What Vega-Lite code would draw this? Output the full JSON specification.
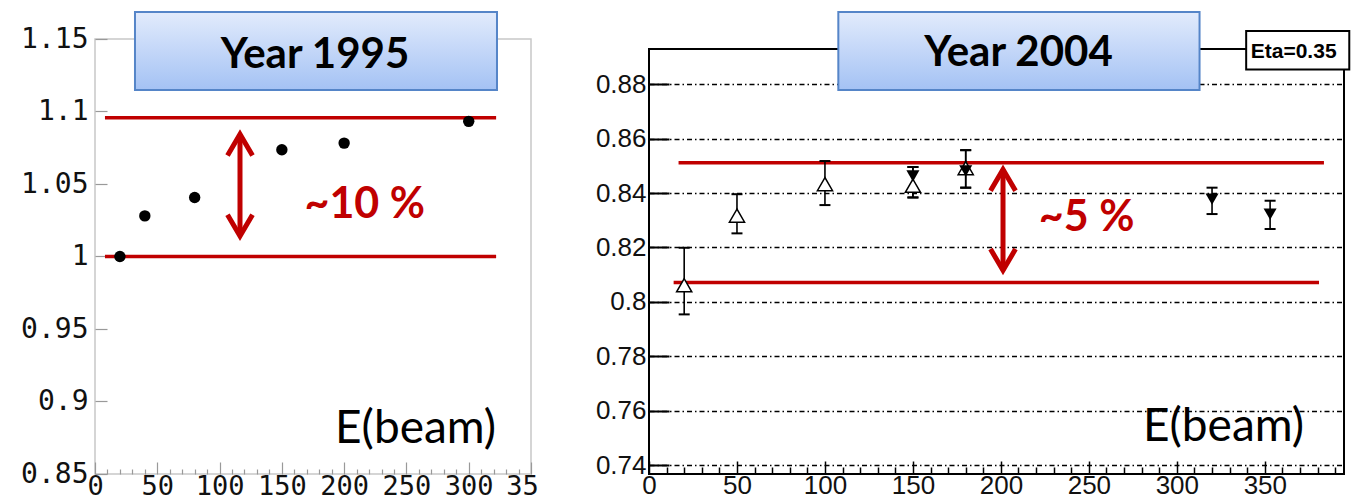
{
  "$schema": "https://vega.github.io/schema/vega-lite/v6.json",
  "background": "white",
  "padding": {"left": 19, "top": 10, "right": 0, "bottom": 0},
  "config": {"view": {"stroke": null}},
  "spacing": 54,
  "bounds": "full",
  "datasets": {
    "p1995": [
      {"E": 20, "R": 1.0}, {"E": 40, "R": 1.028}, {"E": 80, "R": 1.0407},
      {"E": 150, "R": 1.0736}, {"E": 200, "R": 1.0782}, {"E": 300, "R": 1.0932}
    ],
    "band1995": [{"from": 8, "to": 322, "R": 1.0957}, {"from": 8, "to": 322, "R": 1.0}],
    "arrow1995": [{"E": 116.4, "lo": 1.0141, "hi": 1.0843}],
    "note1995": [{"E": 216.5, "R": 1.0268, "text": "~10 %"}],
    "beam1995": [{"E": 322, "R": 0.8716, "text": "E(beam)"}],
    "box1995": [{"x0": 32.1, "x1": 322.7, "y0": 1.1148, "y1": 1.1686, "xc": 176.6, "yb": 1.1302, "text": "Year 1995"}],
    "p2004": [
      {"E": 20, "R": 0.8061, "lo": 0.7954, "hi": 0.8199, "kind": "open"},
      {"E": 50, "R": 0.8317, "lo": 0.8252, "hi": 0.8396, "kind": "open"},
      {"E": 100, "R": 0.8433, "lo": 0.8356, "hi": 0.8518, "kind": "open"},
      {"E": 150, "R": 0.8427, "lo": 0.8384, "hi": 0.8496, "kind": "open"},
      {"E": 180, "R": 0.8492, "lo": 0.842, "hi": 0.8558, "kind": "open"},
      {"E": 150, "R": 0.8463, "lo": 0.8384, "hi": 0.8496, "kind": "filled"},
      {"E": 180, "R": 0.8482, "lo": 0.842, "hi": 0.8558, "kind": "filled"},
      {"E": 320, "R": 0.8378, "lo": 0.8323, "hi": 0.842, "kind": "filled"},
      {"E": 353, "R": 0.8323, "lo": 0.8268, "hi": 0.8372, "kind": "filled"}
    ],
    "band2004": [{"from": 16.8, "to": 383.6, "R": 0.8512}, {"from": 14.0, "to": 380.8, "R": 0.8071}],
    "arrow2004": [{"E": 201.2, "lo": 0.8116, "hi": 0.8487}],
    "note2004": [{"E": 248.7, "R": 0.8261, "text": "~5 %"}],
    "beam2004": [{"E": 372.3, "R": 0.7489, "text": "E(beam)"}],
    "box2004": [{"x0": 107.6, "x1": 312.9, "y0": 0.8779, "y1": 0.9066, "xc": 210, "yb": 0.8867, "text": "Year 2004"}],
    "eta2004": [{"x0": 339.4, "x1": 398, "y0": 0.8855, "y1": 0.8996, "xt": 342, "yb": 0.8898, "text": "Eta=0.35"}]
  },
  "hconcat": [
    {
      "width": 436,
      "height": 435,
      "view": {"stroke": "#c8c8c8", "strokeWidth": 1.5},
      "resolve": {"axis": {"x": "independent"}},
      "layer": [
        {
          "data": {"name": "band1995"},
          "mark": {"type": "rule", "color": "#c00000", "strokeWidth": 3.5},
          "encoding": {
            "x": {
              "field": "from", "type": "quantitative",
              "scale": {"domain": [0, 350], "nice": false, "zero": false},
              "axis": {
                "title": null, "orient": "bottom",
                "values": [0, 50, 100, 150, 200, 250, 300, 350],
                "labelExpr": "datum.value === 350 ? '35' : toString(datum.value)",
                "labelFont": "DejaVu Sans Mono", "labelFontSize": 27, "labelColor": "#111",
                "labelFlush": false, "labelOverlap": false, "labelBound": false,
                "labelPadding": 11,
                "labelOffset": {"condition": {"test": "datum.value === 350", "value": -9}, "value": 0},
                "tickColor": "#999", "tickWidth": 1.2, "tickSize": -12,
                "domain": false, "grid": false
              }
            },
            "x2": {"field": "to"},
            "y": {
              "field": "R", "type": "quantitative",
              "scale": {"domain": [0.85, 1.15], "nice": false, "zero": false},
              "axis": {
                "title": null,
                "values": [0.85,0.875,0.9,0.925,0.95,0.975,1,1.025,1.05,1.075,1.1,1.125,1.15],
                "labelExpr": "abs(datum.value*20 - round(datum.value*20)) < 1e-6 ? toString(datum.value) : ''",
                "labelFont": "DejaVu Sans Mono", "labelFontSize": 28, "labelColor": "#111",
                "labelOverlap": false, "labelBound": false, "labelFlush": false,
                "labelPadding": 19,
                "tickColor": "#999", "tickWidth": 1.2,
                "tickSize": {"condition": {"test": "abs(datum.value*20 - round(datum.value*20)) < 1e-6", "value": -12}, "value": -5},
                "domain": false, "grid": false
              }
            }
          }
        },
        {
          "data": {"name": "p1995"},
          "mark": {"type": "circle", "color": "black", "size": 130, "opacity": 1},
          "encoding": {
            "x": {
              "field": "E", "type": "quantitative",
              "axis": {
                "title": null, "orient": "bottom",
                "values": [10,20,30,40,60,70,80,90,110,120,130,140,160,170,180,190,210,220,230,240,260,270,280,290,310,320,330,340],
                "labels": false, "tickColor": "#999", "tickWidth": 1.2, "tickSize": -5,
                "domain": false, "grid": false
              }
            },
            "y": {"field": "R", "type": "quantitative"}
          }
        },
        {
          "data": {"name": "arrow1995"},
          "mark": {"type": "rule", "color": "#c00000", "strokeWidth": 5},
          "encoding": {"x": {"field": "E", "type": "quantitative", "axis": null}, "y": {"field": "lo", "type": "quantitative"}, "y2": {"field": "hi"}}
        },
        {
          "data": {"name": "arrow1995"},
          "mark": {"type": "point", "shape": "M-1,1.7L0,0L1,1.7", "filled": false, "stroke": "#c00000", "strokeWidth": 5, "size": 625, "opacity": 1},
          "encoding": {"x": {"field": "E", "type": "quantitative", "axis": null}, "y": {"field": "hi", "type": "quantitative"}}
        },
        {
          "data": {"name": "arrow1995"},
          "mark": {"type": "point", "shape": "M-1,-1.7L0,0L1,-1.7", "filled": false, "stroke": "#c00000", "strokeWidth": 5, "size": 625, "opacity": 1},
          "encoding": {"x": {"field": "E", "type": "quantitative", "axis": null}, "y": {"field": "lo", "type": "quantitative"}}
        },
        {
          "data": {"name": "note1995"},
          "mark": {"type": "text", "color": "#c00000", "font": "Lato", "fontWeight": "bold", "fontSize": 43, "align": "center", "baseline": "alphabetic"},
          "encoding": {"x": {"field": "E", "type": "quantitative", "axis": null}, "y": {"field": "R", "type": "quantitative"}, "text": {"field": "text"}}
        },
        {
          "data": {"name": "beam1995"},
          "mark": {"type": "text", "color": "black", "font": "Lato", "fontSize": 46, "align": "right", "baseline": "alphabetic"},
          "encoding": {"x": {"field": "E", "type": "quantitative", "axis": null}, "y": {"field": "R", "type": "quantitative"}, "text": {"field": "text"}}
        },
        {
          "data": {"name": "box1995"},
          "mark": {"type": "rect", "stroke": "#5585c8", "strokeWidth": 2,
            "fill": {"gradient": "linear", "x1": 0, "y1": 0, "x2": 0, "y2": 1, "stops": [{"offset": 0, "color": "#e2ebfc"}, {"offset": 1, "color": "#a4c2f4"}]}},
          "encoding": {"x": {"field": "x0", "type": "quantitative", "axis": null}, "x2": {"field": "x1"}, "y": {"field": "y0", "type": "quantitative"}, "y2": {"field": "y1"}}
        },
        {
          "data": {"name": "box1995"},
          "mark": {"type": "text", "color": "black", "font": "Lato", "fontWeight": "bold", "fontSize": 42, "align": "center", "baseline": "alphabetic"},
          "encoding": {"x": {"field": "xc", "type": "quantitative", "axis": null}, "y": {"field": "yb", "type": "quantitative"}, "text": {"field": "text"}}
        }
      ]
    },
    {
      "spacing": 0,
      "bounds": "flush",
      "vconcat": [
        {
          "width": 695,
          "height": 10,
          "data": {"values": [{"blank": ""}]},
          "mark": {"type": "text"},
          "encoding": {"text": {"field": "blank"}}
        },
        {
          "width": 695,
          "height": 425,
          "view": {"stroke": "black", "strokeWidth": 2},
          "resolve": {"axis": {"x": "independent"}},
          "layer": [
            {
              "data": {"name": "band2004"},
              "mark": {"type": "rule", "color": "#c00000", "strokeWidth": 3.5},
              "encoding": {
                "x": {
                  "field": "from", "type": "quantitative",
                  "scale": {"domain": [0, 395], "nice": false, "zero": false},
                  "axis": {
                    "title": null, "orient": "bottom",
                    "values": [0, 50, 100, 150, 200, 250, 300, 350],
                    "labelExpr": "toString(datum.value)",
                    "labelFont": "Liberation Sans", "labelFontSize": 26, "labelColor": "#111",
                    "labelFlush": false, "labelOverlap": false, "labelBound": false,
                    "labelPadding": 11,
                    "tickColor": "black", "tickWidth": 1.5, "tickSize": -13,
                    "domain": false, "grid": false
                  }
                },
                "x2": {"field": "to"},
                "y": {
                  "field": "R", "type": "quantitative",
                  "scale": {"domain": [0.7367, 0.893], "nice": false, "zero": false},
                  "axis": {
                    "title": null,
                    "values": [0.74,0.745,0.75,0.755,0.76,0.765,0.77,0.775,0.78,0.785,0.79,0.795,0.8,0.805,0.81,0.815,0.82,0.825,0.83,0.835,0.84,0.845,0.85,0.855,0.86,0.865,0.87,0.875,0.88,0.885,0.89],
                    "labelExpr": "abs(datum.value*50 - round(datum.value*50)) < 1e-6 ? toString(datum.value) : ''",
                    "labelFont": "Liberation Sans", "labelFontSize": 26, "labelColor": "#111",
                    "labelOverlap": false, "labelBound": false, "labelFlush": false,
                    "labelPadding": 23,
                    "tickColor": "black", "tickWidth": 2,
                    "tickSize": {"condition": {"test": "abs(datum.value*50 - round(datum.value*50)) < 1e-6", "value": -20}, "value": -10},
                    "grid": true, "gridColor": "black", "gridWidth": 1.5, "gridDash": [5, 3, 1.5, 3],
                    "gridOpacity": {"condition": {"test": "abs(datum.value*50 - round(datum.value*50)) < 1e-6", "value": 1}, "value": 0},
                    "domain": false
                  }
                }
              }
            },
            {
              "data": {"name": "p2004"},
              "mark": {"type": "rule", "color": "black", "strokeWidth": 1.6},
              "encoding": {
                "x": {
                  "field": "E", "type": "quantitative",
                  "axis": {
                    "title": null, "orient": "bottom",
                    "values": [10,20,30,40,60,70,80,90,110,120,130,140,160,170,180,190,210,220,230,240,260,270,280,290,310,320,330,340,360,370,380,390],
                    "labels": false, "tickColor": "black", "tickWidth": 1.5, "tickSize": -7,
                    "domain": false, "grid": false
                  }
                },
                "y": {"field": "lo", "type": "quantitative"}, "y2": {"field": "hi"}
              }
            },
            {
              "data": {"name": "p2004"},
              "mark": {"type": "tick", "orient": "horizontal", "color": "black", "size": 11, "thickness": 2, "opacity": 1},
              "encoding": {"x": {"field": "E", "type": "quantitative", "axis": null}, "y": {"field": "lo", "type": "quantitative"}}
            },
            {
              "data": {"name": "p2004"},
              "mark": {"type": "tick", "orient": "horizontal", "color": "black", "size": 11, "thickness": 2, "opacity": 1},
              "encoding": {"x": {"field": "E", "type": "quantitative", "axis": null}, "y": {"field": "hi", "type": "quantitative"}}
            },
            {
              "data": {"name": "p2004"},
              "transform": [{"filter": "datum.kind === 'open'"}],
              "mark": {"type": "point", "shape": "triangle-up", "filled": true, "fill": "white", "stroke": "black", "strokeWidth": 1.5, "size": 230, "opacity": 1},
              "encoding": {"x": {"field": "E", "type": "quantitative", "axis": null}, "y": {"field": "R", "type": "quantitative"}}
            },
            {
              "data": {"name": "p2004"},
              "transform": [{"filter": "datum.kind === 'filled'"}],
              "mark": {"type": "point", "shape": "triangle-down", "filled": true, "color": "black", "size": 170, "opacity": 1},
              "encoding": {"x": {"field": "E", "type": "quantitative", "axis": null}, "y": {"field": "R", "type": "quantitative"}}
            },
            {
              "data": {"name": "arrow2004"},
              "mark": {"type": "rule", "color": "#c00000", "strokeWidth": 5},
              "encoding": {"x": {"field": "E", "type": "quantitative", "axis": null}, "y": {"field": "lo", "type": "quantitative"}, "y2": {"field": "hi"}}
            },
            {
              "data": {"name": "arrow2004"},
              "mark": {"type": "point", "shape": "M-1,1.7L0,0L1,1.7", "filled": false, "stroke": "#c00000", "strokeWidth": 5, "size": 625, "opacity": 1},
              "encoding": {"x": {"field": "E", "type": "quantitative", "axis": null}, "y": {"field": "hi", "type": "quantitative"}}
            },
            {
              "data": {"name": "arrow2004"},
              "mark": {"type": "point", "shape": "M-1,-1.7L0,0L1,-1.7", "filled": false, "stroke": "#c00000", "strokeWidth": 5, "size": 625, "opacity": 1},
              "encoding": {"x": {"field": "E", "type": "quantitative", "axis": null}, "y": {"field": "lo", "type": "quantitative"}}
            },
            {
              "data": {"name": "note2004"},
              "mark": {"type": "text", "color": "#c00000", "font": "Lato", "fontWeight": "bold", "fontSize": 43, "align": "center", "baseline": "alphabetic"},
              "encoding": {"x": {"field": "E", "type": "quantitative", "axis": null}, "y": {"field": "R", "type": "quantitative"}, "text": {"field": "text"}}
            },
            {
              "data": {"name": "beam2004"},
              "mark": {"type": "text", "color": "black", "font": "Lato", "fontSize": 46, "align": "right", "baseline": "alphabetic"},
              "encoding": {"x": {"field": "E", "type": "quantitative", "axis": null}, "y": {"field": "R", "type": "quantitative"}, "text": {"field": "text"}}
            },
            {
              "data": {"name": "box2004"},
              "mark": {"type": "rect", "stroke": "#5585c8", "strokeWidth": 2,
                "fill": {"gradient": "linear", "x1": 0, "y1": 0, "x2": 0, "y2": 1, "stops": [{"offset": 0, "color": "#e2ebfc"}, {"offset": 1, "color": "#a4c2f4"}]}},
              "encoding": {"x": {"field": "x0", "type": "quantitative", "axis": null}, "x2": {"field": "x1"}, "y": {"field": "y0", "type": "quantitative"}, "y2": {"field": "y1"}}
            },
            {
              "data": {"name": "box2004"},
              "mark": {"type": "text", "color": "black", "font": "Lato", "fontWeight": "bold", "fontSize": 42, "align": "center", "baseline": "alphabetic"},
              "encoding": {"x": {"field": "xc", "type": "quantitative", "axis": null}, "y": {"field": "yb", "type": "quantitative"}, "text": {"field": "text"}}
            },
            {
              "data": {"name": "eta2004"},
              "mark": {"type": "rect", "fill": "white", "stroke": "black", "strokeWidth": 2},
              "encoding": {"x": {"field": "x0", "type": "quantitative", "axis": null}, "x2": {"field": "x1"}, "y": {"field": "y0", "type": "quantitative"}, "y2": {"field": "y1"}}
            },
            {
              "data": {"name": "eta2004"},
              "mark": {"type": "text", "color": "black", "font": "Liberation Sans", "fontWeight": "bold", "fontSize": 21, "align": "left", "baseline": "alphabetic"},
              "encoding": {"x": {"field": "xt", "type": "quantitative", "axis": null}, "y": {"field": "yb", "type": "quantitative"}, "text": {"field": "text"}}
            }
          ]
        }
      ]
    }
  ]
}
